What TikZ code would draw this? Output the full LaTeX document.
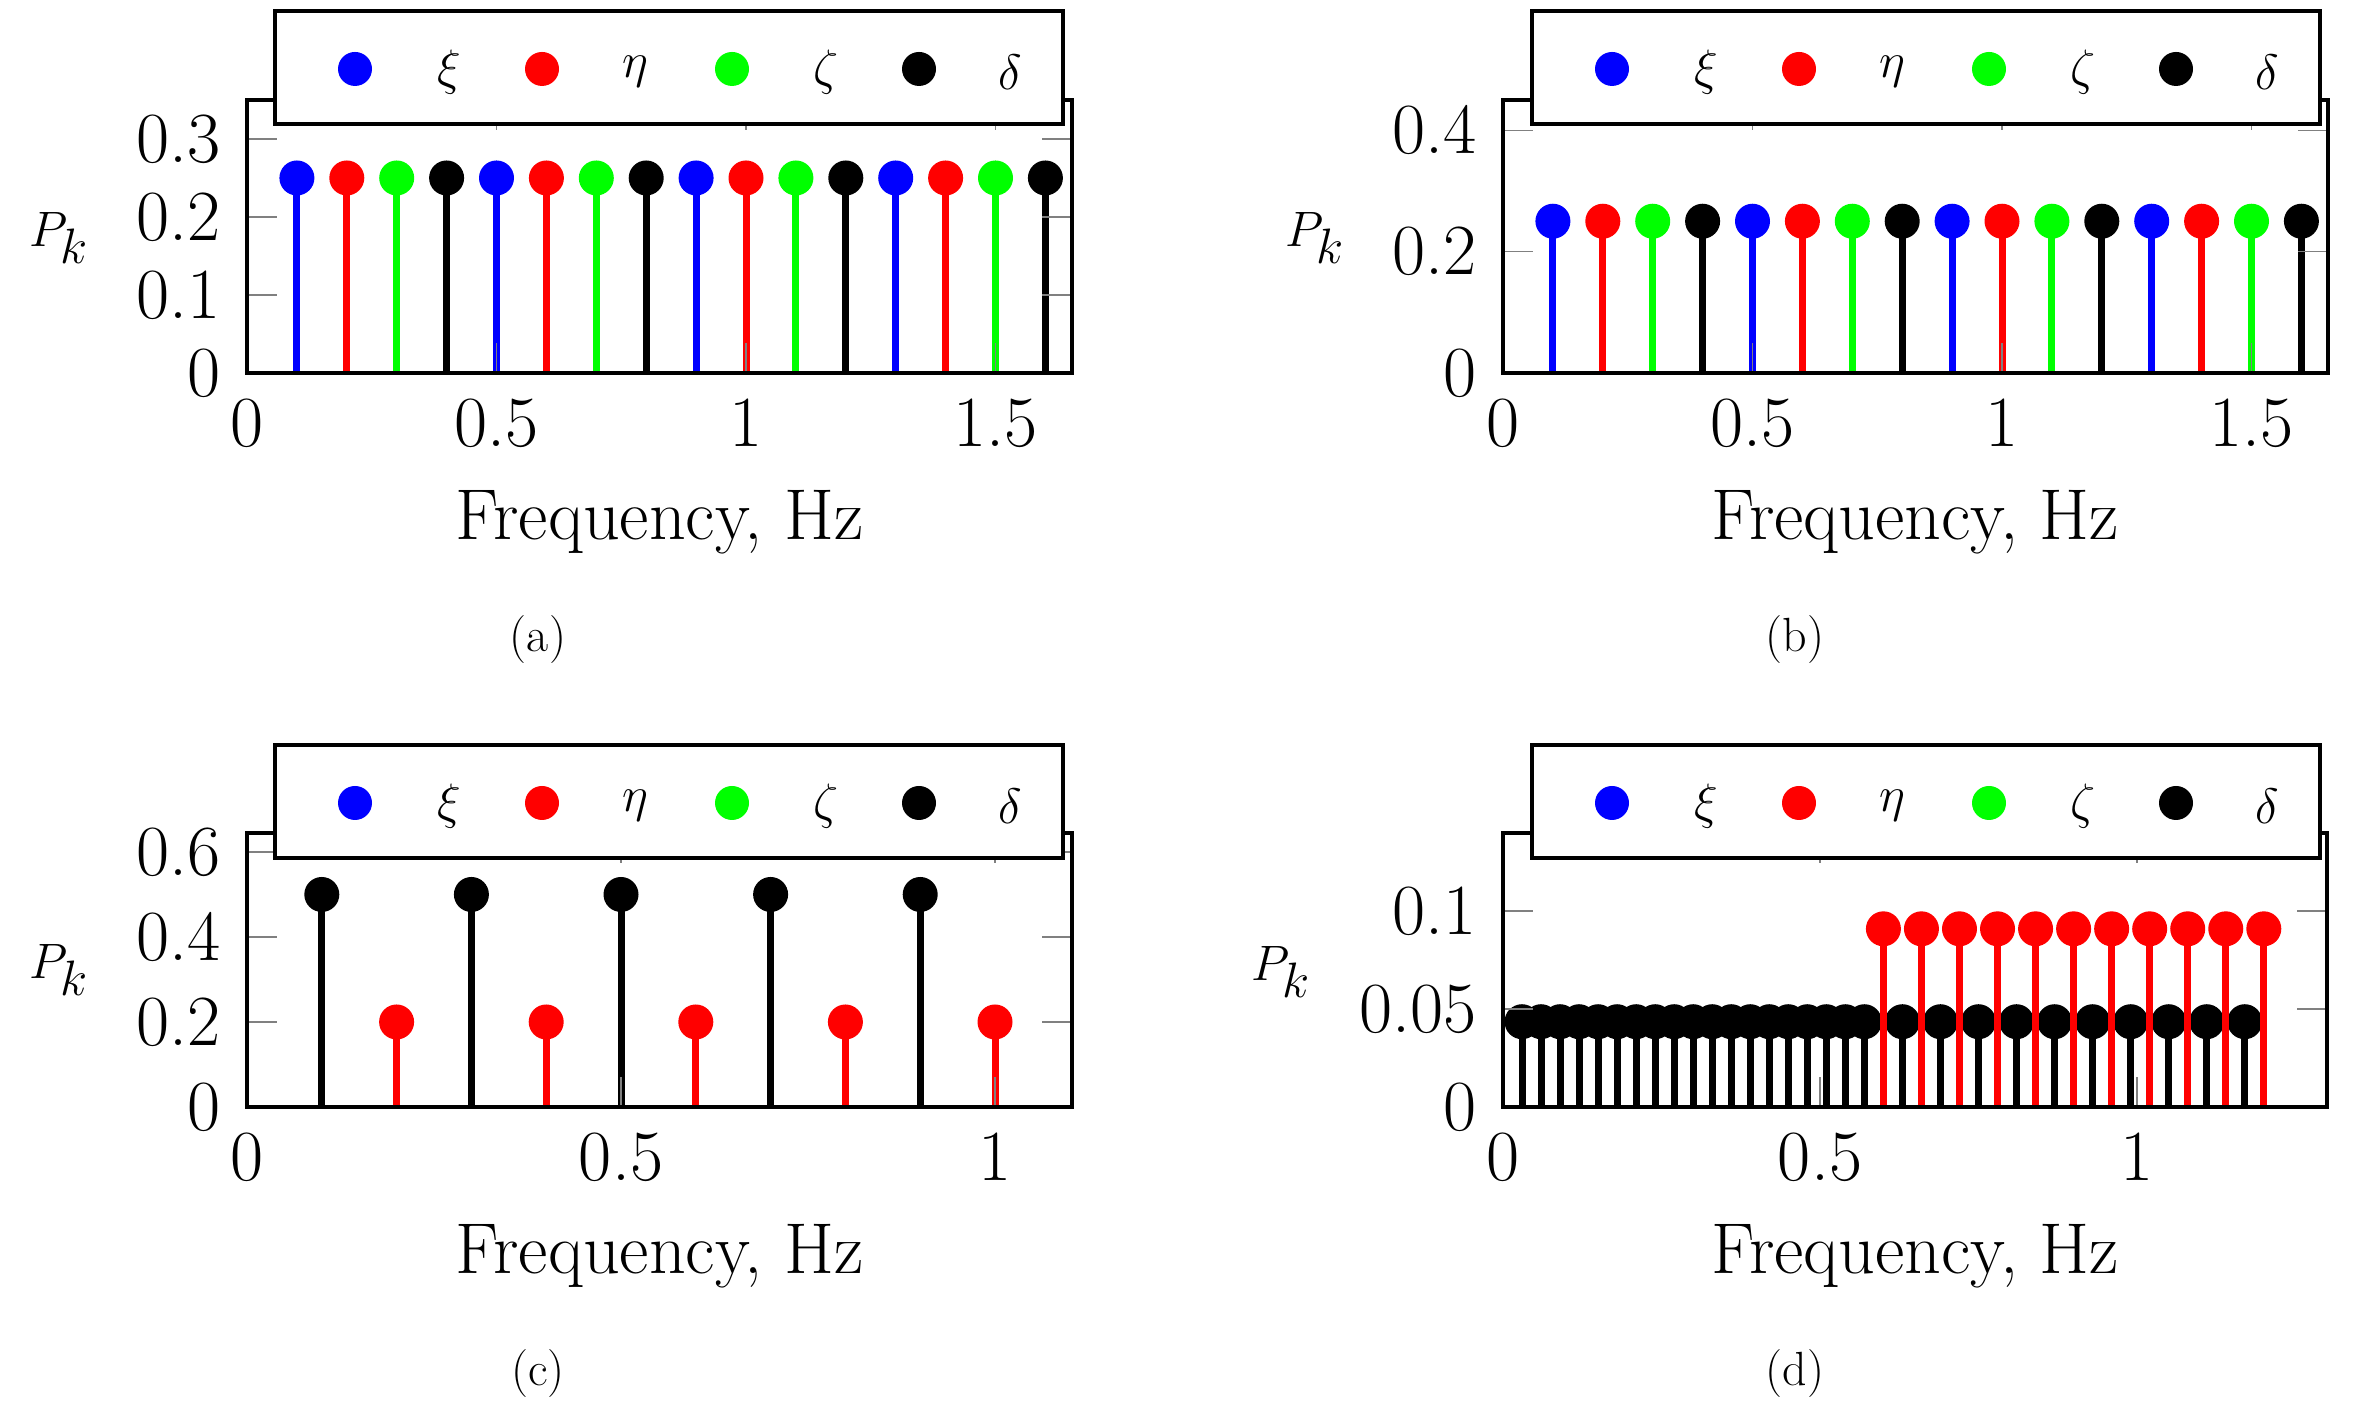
\documentclass[tikz,border=0pt]{standalone}
\begin{document}
\begin{tikzpicture}[x=0.5pt,y=0.5pt,
  stem/.style={line width=3.5pt},
  frm/.style={line width=2pt},
  tck/.style={gray,line width=0.6pt},
  tl/.style={font=\fontsize{36}{40}\selectfont,inner sep=0pt},
  capt/.style={font=\fontsize{24}{28}\selectfont,anchor=base},
  leg/.style={draw=black,fill=white,line width=2pt}]
\useasboundingbox (0,0) rectangle (2358,1416);
\newcommand\combplot[3]{%
  \foreach \q in {#2}{\draw[stem,#1] (\q,0)--(\q,#3);}%
  \foreach \q in {#2}{\fill[#1] (\q,#3) circle[radius=8.75pt];}}
\newcommand\axframe[4]{% xmax ymax xticks yticks
  \foreach \q in {#3}{\draw[tck] (\q,0)--++(0,15pt); \draw[tck] (\q,#2)--++(0,-15pt);
     \node[tl,anchor=north] (xl) at ([yshift=-13pt]\q,0) {\q};}
  \foreach \q in {#4}{\draw[tck] (0,\q)--++(15pt,0); \draw[tck] (#1,\q)--++(-15pt,0);
     \node[tl,anchor=east] (yl) at ([xshift=-13pt]0,\q) {\q};}}
\newcommand\legendbox[3]{% left x, bottom y, name
  \node[leg,minimum width=394pt,minimum height=56.5pt,anchor=south west,inner sep=0pt] (#3) at (#1,#2) {};
  \fill[blue]  (#1+82,#2+57) circle[radius=8.5pt];
  \node[tl] (#3xi) at (#1+176,#2+54) {$\xi$};
  \fill[red]   (#1+269,#2+57) circle[radius=8.5pt];
  \node[tl] (#3eta) at (#1+362,#2+54) {$\eta$};
  \fill[green] (#1+459,#2+57) circle[radius=8.5pt];
  \node[tl] (#3zeta) at (#1+553,#2+54) {$\zeta$};
  \fill[black] (#1+646,#2+57) circle[radius=8.5pt];
  \node[tl] (#3delta) at (#1+737,#2+54) {$\delta$};}

% ---------- (a)
\begin{scope}[shift={(247,1043)},x=249.5pt,y=390pt]
  \combplot{blue}{0.1,0.5,0.9,1.3}{0.25}
  \combplot{red}{0.2,0.6,1.0,1.4}{0.25}
  \combplot{green}{0.3,0.7,1.1,1.5}{0.25}
  \combplot{black}{0.4,0.8,1.2,1.6}{0.25}
  \axframe{1.653}{0.35}{0,0.5,1,1.5}{0,0.1,0.2,0.3}
  \draw[frm] (0,0) rectangle (1.653,0.35);
\end{scope}
\legendbox{273}{1290}{la}
\node[tl] (pa) at (59,1178) {$P_k$};
\node[tl,anchor=base] (fa) at (659.5,876) {Frequency, Hz};
\node[capt] (ca) at (538,764) {(a)};

% ---------- (b)
\begin{scope}[shift={(1503,1043)},x=249.5pt,y=303.5pt]
  \combplot{blue}{0.1,0.5,0.9,1.3}{0.25}
  \combplot{red}{0.2,0.6,1.0,1.4}{0.25}
  \combplot{green}{0.3,0.7,1.1,1.5}{0.25}
  \combplot{black}{0.4,0.8,1.2,1.6}{0.25}
  \axframe{1.653}{0.45}{0,0.5,1,1.5}{0,0.2,0.4}
  \draw[frm] (0,0) rectangle (1.653,0.45);
\end{scope}
\legendbox{1530}{1290}{lb}
\node[tl] (pb) at (1315,1178) {$P_k$};
\node[tl,anchor=base] (fb) at (1915,876) {Frequency, Hz};
\node[capt] (cb) at (1795,764) {(b)};

% ---------- (c)
\begin{scope}[shift={(247,309)},x=374pt,y=212.5pt]
  \combplot{black}{0.1,0.3,0.5,0.7,0.9}{0.5}
  \combplot{red}{0.2,0.4,0.6,0.8,1.0}{0.2}
  \axframe{1.103}{0.645}{0,0.5,1}{0,0.2,0.4,0.6}
  \draw[frm] (0,0) rectangle (1.103,0.645);
\end{scope}
\legendbox{273}{556}{lc}
\node[tl] (pc) at (59,446) {$P_k$};
\node[tl,anchor=base] (fc) at (659.5,142) {Frequency, Hz};
\node[capt] (cc) at (538,30) {(c)};

% ---------- (d)
\begin{scope}[shift={(1503,309)},x=317pt,y=980pt]
  \combplot{black}{0.03,0.06,0.09,0.12,0.15,0.18,0.21,0.24,0.27,0.3,0.33,0.36,0.39,0.42,0.45,0.48,0.51,0.54,0.57,0.63,0.69,0.75,0.81,0.87,0.93,0.99,1.05,1.11,1.17}{0.0435}
  \combplot{red}{0.6,0.66,0.72,0.78,0.84,0.9,0.96,1.02,1.08,1.14,1.2}{0.0909}
  \axframe{1.30}{0.14}{0,0.5,1}{0,0.05,0.1}
  \draw[frm] (0,0) rectangle (1.30,0.14);
\end{scope}
\legendbox{1530}{556}{ld}
\node[tl] (pd) at (1281,444) {$P_k$};
\node[tl,anchor=base] (fd) at (1915,142) {Frequency, Hz};
\node[capt] (cd) at (1795,30) {(d)};
\end{tikzpicture}
\end{document}
